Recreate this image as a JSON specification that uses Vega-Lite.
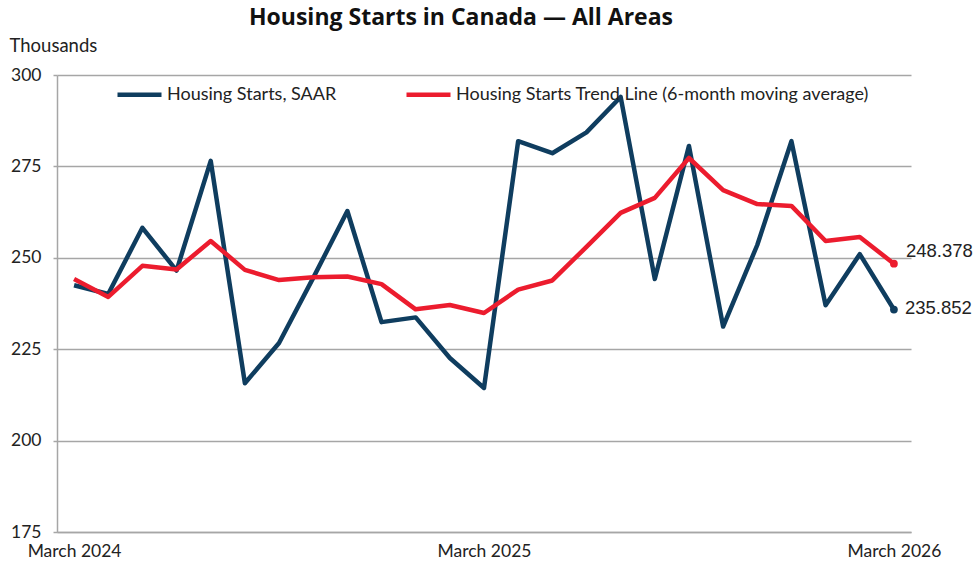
{
  "$schema": "https://vega.github.io/schema/vega-lite/v6.json",
  "width": 854,
  "height": 457,
  "autosize": {"type": "none"},
  "padding": {"left": 57, "top": 75, "right": 69, "bottom": 41},
  "background": "white",
  "config": {
    "font": "Lato",
    "view": {"stroke": null}
  },
  "title": {
    "text": "Housing Starts in Canada — All Areas",
    "fontSize": 23,
    "fontWeight": "bold",
    "font": "Open Sans",
    "color": "#111111",
    "anchor": "middle",
    "dx": -23,
    "offset": 6
  },
  "data": {
    "values": [
      {"month": "2024-03", "series": "Housing Starts, SAAR", "value": 242.5},
      {"month": "2024-04", "series": "Housing Starts, SAAR", "value": 240.1},
      {"month": "2024-05", "series": "Housing Starts, SAAR", "value": 258.2},
      {"month": "2024-06", "series": "Housing Starts, SAAR", "value": 246.5},
      {"month": "2024-07", "series": "Housing Starts, SAAR", "value": 276.5},
      {"month": "2024-08", "series": "Housing Starts, SAAR", "value": 215.7},
      {"month": "2024-09", "series": "Housing Starts, SAAR", "value": 226.7},
      {"month": "2024-10", "series": "Housing Starts, SAAR", "value": 244.5},
      {"month": "2024-11", "series": "Housing Starts, SAAR", "value": 262.8},
      {"month": "2024-12", "series": "Housing Starts, SAAR", "value": 232.4},
      {"month": "2025-01", "series": "Housing Starts, SAAR", "value": 233.7},
      {"month": "2025-02", "series": "Housing Starts, SAAR", "value": 222.6},
      {"month": "2025-03", "series": "Housing Starts, SAAR", "value": 214.4},
      {"month": "2025-04", "series": "Housing Starts, SAAR", "value": 281.9},
      {"month": "2025-05", "series": "Housing Starts, SAAR", "value": 278.6},
      {"month": "2025-06", "series": "Housing Starts, SAAR", "value": 284.3},
      {"month": "2025-07", "series": "Housing Starts, SAAR", "value": 294.0},
      {"month": "2025-08", "series": "Housing Starts, SAAR", "value": 244.2},
      {"month": "2025-09", "series": "Housing Starts, SAAR", "value": 280.6},
      {"month": "2025-10", "series": "Housing Starts, SAAR", "value": 231.2},
      {"month": "2025-11", "series": "Housing Starts, SAAR", "value": 253.5},
      {"month": "2025-12", "series": "Housing Starts, SAAR", "value": 281.9},
      {"month": "2026-01", "series": "Housing Starts, SAAR", "value": 237.0},
      {"month": "2026-02", "series": "Housing Starts, SAAR", "value": 251.0},
      {"month": "2026-03", "series": "Housing Starts, SAAR", "value": 235.852},
      {"month": "2024-03", "series": "Housing Starts Trend Line (6-month moving average)", "value": 244.2},
      {"month": "2024-04", "series": "Housing Starts Trend Line (6-month moving average)", "value": 239.3},
      {"month": "2024-05", "series": "Housing Starts Trend Line (6-month moving average)", "value": 247.8},
      {"month": "2024-06", "series": "Housing Starts Trend Line (6-month moving average)", "value": 246.8},
      {"month": "2024-07", "series": "Housing Starts Trend Line (6-month moving average)", "value": 254.6},
      {"month": "2024-08", "series": "Housing Starts Trend Line (6-month moving average)", "value": 246.7},
      {"month": "2024-09", "series": "Housing Starts Trend Line (6-month moving average)", "value": 243.9},
      {"month": "2024-10", "series": "Housing Starts Trend Line (6-month moving average)", "value": 244.7},
      {"month": "2024-11", "series": "Housing Starts Trend Line (6-month moving average)", "value": 244.9},
      {"month": "2024-12", "series": "Housing Starts Trend Line (6-month moving average)", "value": 242.8},
      {"month": "2025-01", "series": "Housing Starts Trend Line (6-month moving average)", "value": 235.9},
      {"month": "2025-02", "series": "Housing Starts Trend Line (6-month moving average)", "value": 237.1},
      {"month": "2025-03", "series": "Housing Starts Trend Line (6-month moving average)", "value": 234.9},
      {"month": "2025-04", "series": "Housing Starts Trend Line (6-month moving average)", "value": 241.3},
      {"month": "2025-05", "series": "Housing Starts Trend Line (6-month moving average)", "value": 243.8},
      {"month": "2025-06", "series": "Housing Starts Trend Line (6-month moving average)", "value": 253.0},
      {"month": "2025-07", "series": "Housing Starts Trend Line (6-month moving average)", "value": 262.3},
      {"month": "2025-08", "series": "Housing Starts Trend Line (6-month moving average)", "value": 266.4},
      {"month": "2025-09", "series": "Housing Starts Trend Line (6-month moving average)", "value": 277.3},
      {"month": "2025-10", "series": "Housing Starts Trend Line (6-month moving average)", "value": 268.5},
      {"month": "2025-11", "series": "Housing Starts Trend Line (6-month moving average)", "value": 264.7},
      {"month": "2025-12", "series": "Housing Starts Trend Line (6-month moving average)", "value": 264.2},
      {"month": "2026-01", "series": "Housing Starts Trend Line (6-month moving average)", "value": 254.6},
      {"month": "2026-02", "series": "Housing Starts Trend Line (6-month moving average)", "value": 255.7},
      {"month": "2026-03", "series": "Housing Starts Trend Line (6-month moving average)", "value": 248.378}
    ]
  },
  "encoding": {
    "x": {
      "field": "month",
      "type": "ordinal",
      "sort": "ascending",
      "scale": {"type": "point", "padding": 0.5},
      "axis": {
        "title": null,
        "labelAngle": 0,
        "ticks": false,
        "domain": true,
        "domainColor": "#a6a6a6",
        "domainWidth": 1.5,
        "labelFontSize": 17.5,
        "labelColor": "#222222",
        "labelPadding": 10,
        "labelExpr": "datum.value == '2024-03' ? 'March 2024' : datum.value == '2025-03' ? 'March 2025' : datum.value == '2026-03' ? 'March 2026' : ''"
      }
    },
    "y": {
      "field": "value",
      "type": "quantitative",
      "scale": {"domain": [175, 300], "nice": false, "zero": false},
      "axis": {
        "values": [175, 200, 225, 250, 275, 300],
        "title": "Thousands",
        "titleAngle": 0,
        "titleAlign": "left",
        "titleBaseline": "alphabetic",
        "titleX": -48,
        "titleY": -24,
        "titleFontSize": 18.5,
        "titleFontWeight": "normal",
        "titleColor": "#222222",
        "grid": true,
        "gridColor": "#a6a6a6",
        "gridWidth": 1.5,
        "domain": true,
        "domainColor": "#a6a6a6",
        "domainWidth": 1.5,
        "ticks": true,
        "tickSize": 4,
        "tickColor": "#a6a6a6",
        "tickWidth": 1.5,
        "labelFontSize": 17.5,
        "labelColor": "#222222",
        "labelPadding": 12
      }
    }
  },
  "layer": [
    {
      "mark": {"type": "line", "strokeWidth": 4.5, "strokeJoin": "round"},
      "encoding": {
        "color": {
          "field": "series",
          "type": "nominal",
          "scale": {
            "domain": ["Housing Starts, SAAR", "Housing Starts Trend Line (6-month moving average)"],
            "range": ["#0f3d5f", "#ec1c2e"]
          },
          "legend": {
            "title": null,
            "orient": "none",
            "legendX": 58,
            "legendY": -5,
            "direction": "horizontal",
            "symbolType": "stroke",
            "symbolSize": 1936,
            "symbolStrokeWidth": 4.5,
            "labelFontSize": 18,
            "labelColor": "#222222",
            "labelOffset": 3,
            "labelLimit": 600,
            "columnPadding": 60
          }
        }
      }
    },
    {
      "transform": [{"filter": "datum.month == '2026-03'"}],
      "mark": {"type": "point", "filled": true, "size": 60, "opacity": 1},
      "encoding": {
        "color": {"field": "series", "type": "nominal", "legend": null}
      }
    },
    {
      "transform": [{"filter": "datum.month == '2026-03' && datum.series == 'Housing Starts, SAAR'"}],
      "mark": {"type": "text", "align": "left", "baseline": "middle", "dx": 11, "dy": -2, "fontSize": 18.5, "font": "Liberation Sans", "color": "#222222"},
      "encoding": {"text": {"field": "value", "type": "quantitative", "format": ".3f"}}
    },
    {
      "transform": [{"filter": "datum.month == '2026-03' && datum.series != 'Housing Starts, SAAR'"}],
      "mark": {"type": "text", "align": "left", "baseline": "middle", "dx": 12, "dy": -13, "fontSize": 18.5, "font": "Liberation Sans", "color": "#222222"},
      "encoding": {"text": {"field": "value", "type": "quantitative", "format": ".3f"}}
    }
  ]
}
